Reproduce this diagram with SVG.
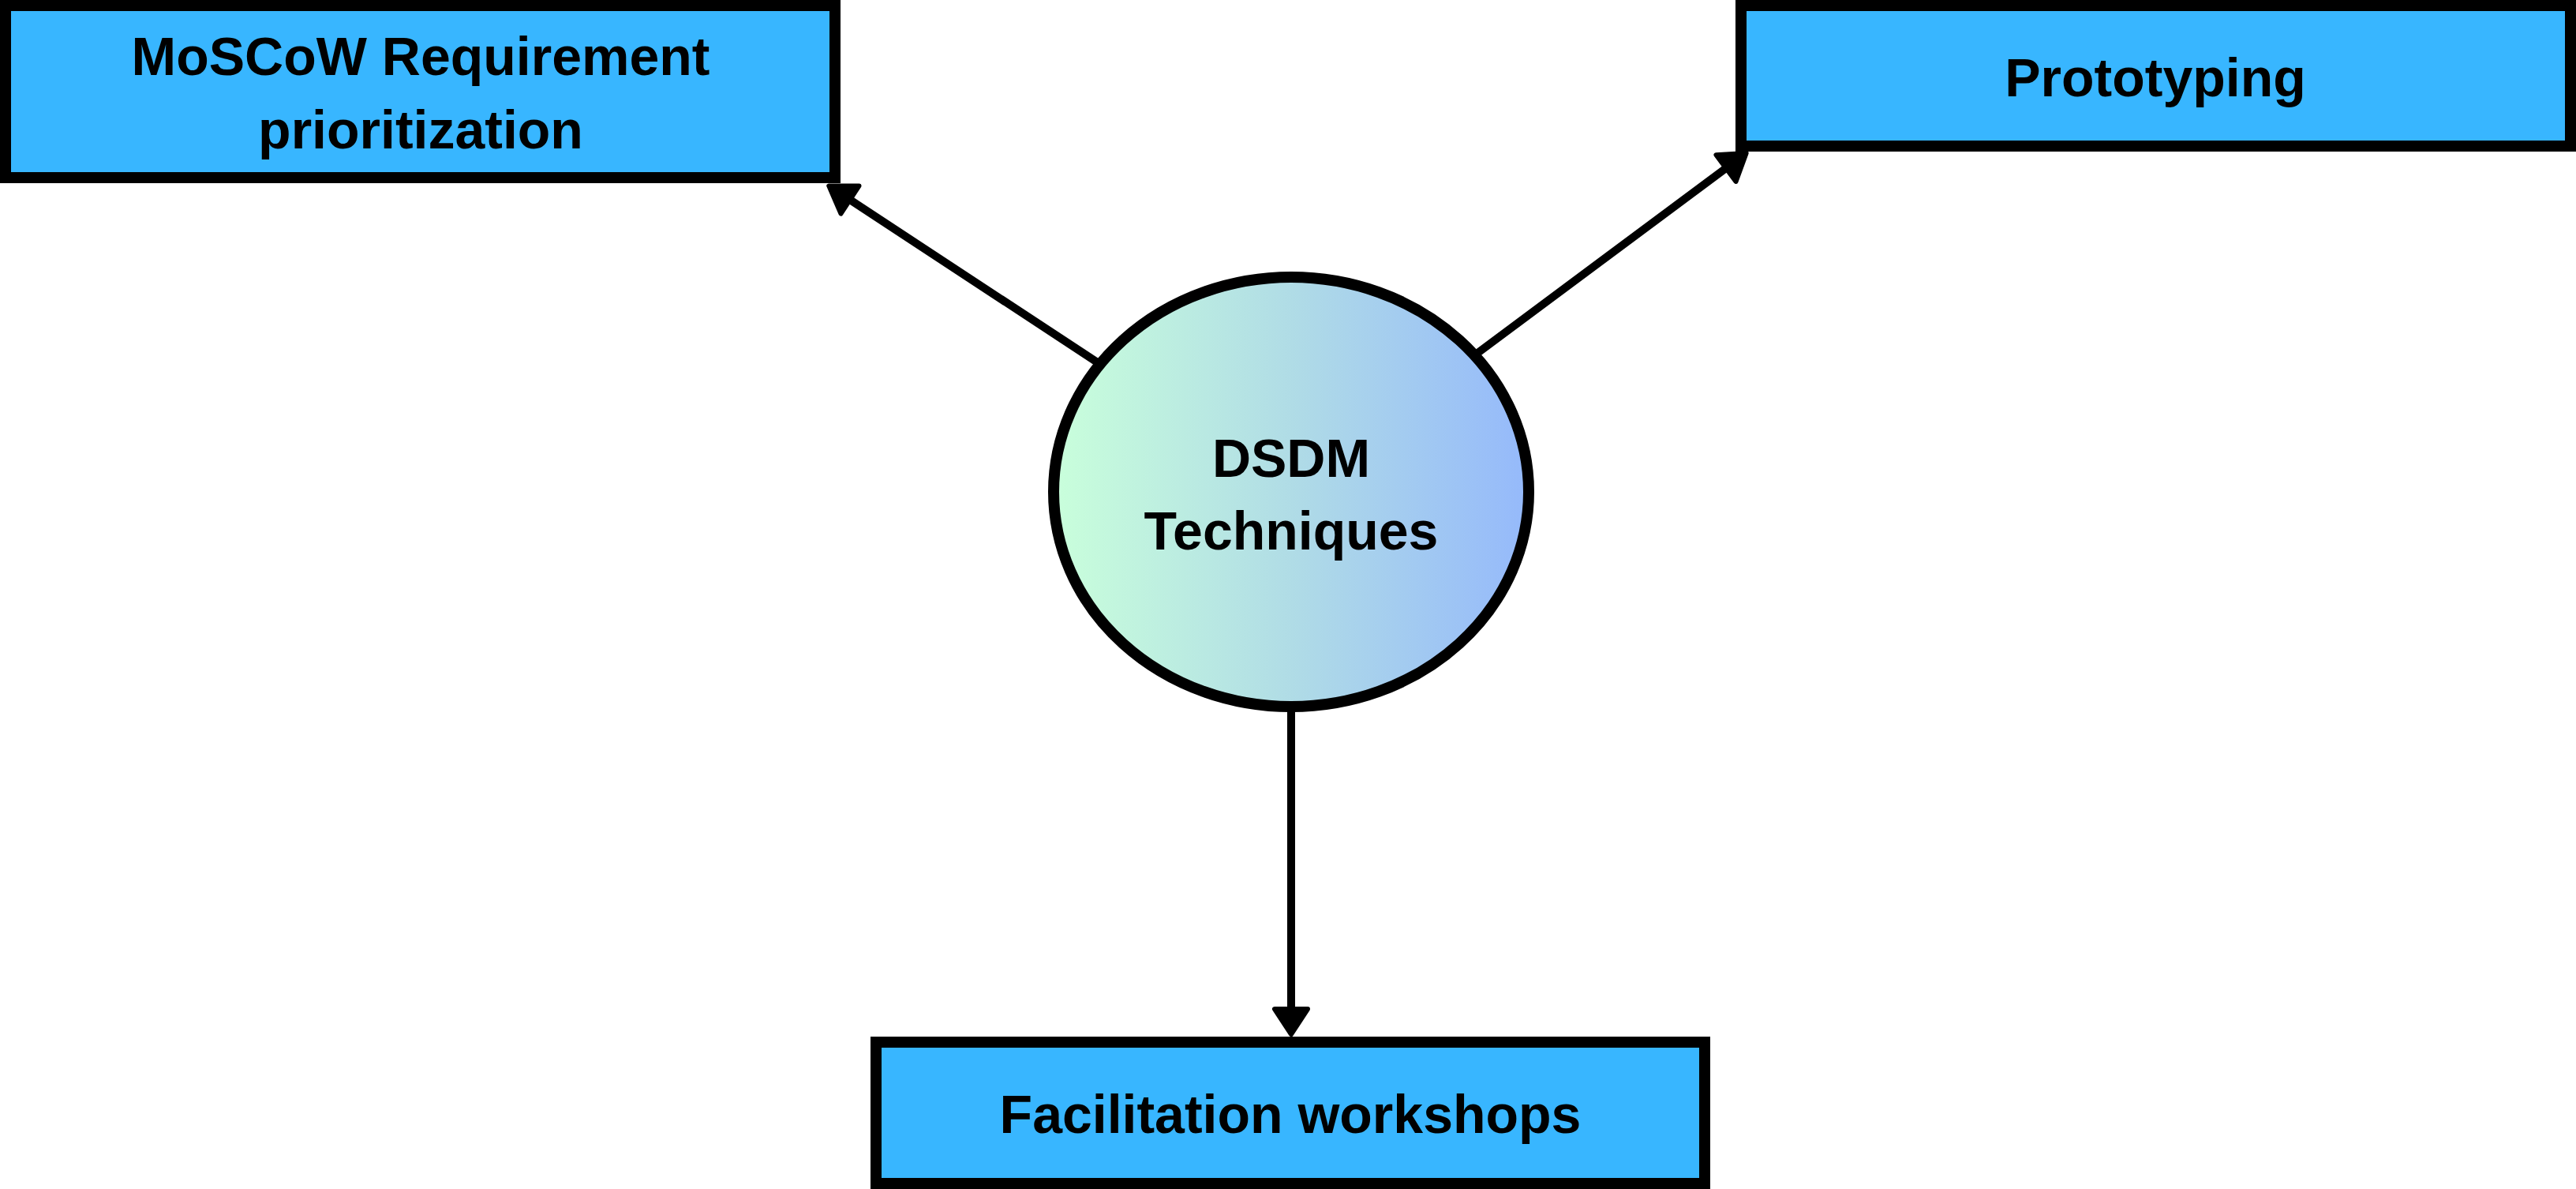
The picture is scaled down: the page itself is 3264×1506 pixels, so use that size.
<svg xmlns="http://www.w3.org/2000/svg" width="3264" height="1506" viewBox="0 0 3264 1506">
  <style>
    .box { fill: #38B6FF; stroke: #000000; stroke-width: 14; }
    .hub { stroke: #000000; stroke-width: 14; }
    .lbl { font-family: "Liberation Sans", Arial, sans-serif; font-weight: bold; font-size: 68px; fill: #000000; text-anchor: middle; }
    .conn { stroke: #000000; stroke-width: 10; fill: none; }
  </style>
  <defs>
    <linearGradient id="hubGrad" x1="0" y1="0" x2="1" y2="0">
      <stop offset="0" stop-color="#C9FFDB"/>
      <stop offset="0.5" stop-color="#B0DCE6"/>
      <stop offset="1" stop-color="#95B9FB"/>
    </linearGradient>
    <marker id="arrow" viewBox="-4 -4 44 50" markerUnits="userSpaceOnUse" markerWidth="44" markerHeight="50" refX="0" refY="21" orient="auto">
      <path d="M0,0 L32,21 L0,42 Z" fill="#000000" stroke="#000000" stroke-width="6" stroke-linejoin="round"/>
    </marker>
  </defs>
  <rect width="3264" height="1506" fill="#FFFFFF"/>

  <g id="connectors">
    <line class="conn" x1="1395" y1="462" x2="1077" y2="253" marker-end="url(#arrow)"/>
    <line class="conn" x1="1867" y1="451" x2="2187" y2="213" marker-end="url(#arrow)"/>
    <line class="conn" x1="1636" y1="895" x2="1636" y2="1278" marker-end="url(#arrow)"/>
  </g>

  <g id="node-moscow">
    <rect class="box" x="7" y="7" width="1051" height="218"/>
    <text class="lbl" x="533" y="95">MoSCoW Requirement</text>
    <text class="lbl" x="533" y="188">prioritization</text>
  </g>

  <g id="node-prototyping">
    <rect class="box" x="2206" y="7" width="1051" height="178"/>
    <text class="lbl" x="2731" y="122">Prototyping</text>
  </g>

  <g id="node-workshops">
    <rect class="box" x="1110" y="1320" width="1050" height="179"/>
    <text class="lbl" x="1635" y="1435">Facilitation workshops</text>
  </g>

  <g id="node-dsdm">
    <ellipse class="hub" cx="1636" cy="623" rx="301" ry="272" fill="url(#hubGrad)"/>
    <text class="lbl" x="1636" y="604">DSDM</text>
    <text class="lbl" x="1636" y="696">Techniques</text>
  </g>
</svg>
